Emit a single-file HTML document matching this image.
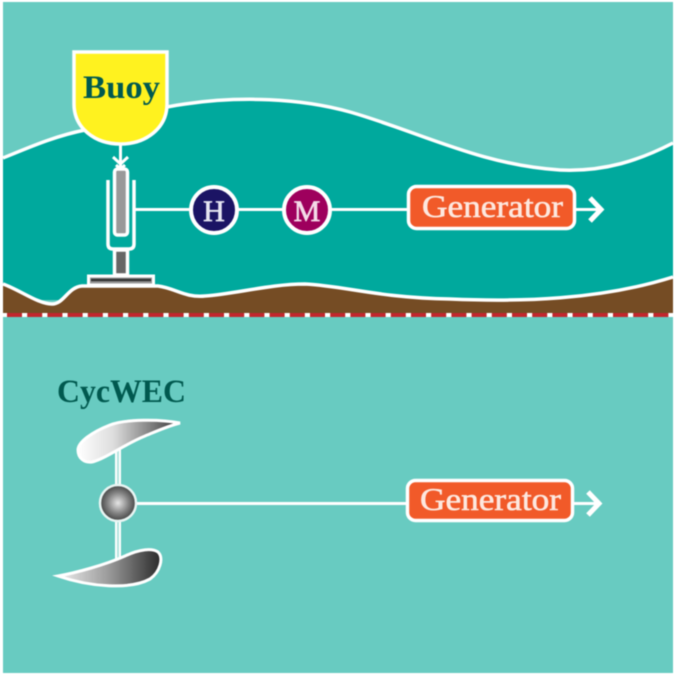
<!DOCTYPE html>
<html><head><meta charset="utf-8"><style>html,body{margin:0;padding:0;background:#fff}svg{display:block;filter:blur(.45px)}text{font-family:"Liberation Serif",serif}</style></head>
<body>
<svg width="676" height="676" viewBox="0 0 676 676" xmlns="http://www.w3.org/2000/svg">
<defs>
<linearGradient id="b1" x1="0" x2="1" y1="0" y2="0"><stop offset="0" stop-color="#fff"/><stop offset=".35" stop-color="#ddd"/><stop offset=".75" stop-color="#777"/><stop offset="1" stop-color="#333"/></linearGradient>
<linearGradient id="b2" x1="0" x2="1" y1="0" y2="0"><stop offset="0" stop-color="#eee"/><stop offset=".5" stop-color="#999"/><stop offset="1" stop-color="#2a2a2a"/></linearGradient>
<radialGradient id="ball"><stop offset="0" stop-color="#e6e6e6"/><stop offset=".6" stop-color="#808080"/><stop offset="1" stop-color="#444"/></radialGradient>
</defs>
<rect x="3" y="2" width="670" height="671" fill="#68cbc1"/>
<path d="M3 158C30 147 55 136 85 130C120 124 140 110 185 104C240 96 300 98 350 112C420 132 480 165 560 170C605 172 640 160 673 143V300H3Z" fill="#00a99d"/>
<path d="M3 158C30 147 55 136 85 130C120 124 140 110 185 104C240 96 300 98 350 112C420 132 480 165 560 170C605 172 640 160 673 143" fill="none" stroke="#fff" stroke-width="3.500"/>
<path d="M3 284C20 290 38 304 52 304C64 304 68 287 82 286H158C175 288 185 298 205 296C235 294 270 284 305 284C345 286 380 298 450 299C520 302 600 300 673 277V314H3Z" fill="#754c24"/>
<path d="M3 284C20 290 38 304 52 304C64 304 68 287 82 286H158C175 288 185 298 205 296C235 294 270 284 305 284C345 286 380 298 450 299C520 302 600 300 673 277" fill="none" stroke="#fff" stroke-width="3.500"/>
<line x1="3" y1="315" x2="673" y2="315" stroke="#fff" stroke-width="4"/>
<line x1="7" y1="315" x2="673" y2="315" stroke="#c1272d" stroke-width="4" stroke-dasharray="15 5.200"/>

<!-- buoy -->
<line x1="120.500" y1="145" x2="120.500" y2="168" stroke="#fff" stroke-width="3"/>
<path d="M113 157L120.500 164L128 157M116 165L120.500 169L125 165" fill="none" stroke="#fff" stroke-width="3"/>
<path d="M74 52H167V104C167 128 146 144 120.500 144C95 144 74 128 74 104Z" fill="#fff21f" stroke="#fff" stroke-width="3.500"/>
<text x="83" y="98" font-size="33" font-weight="bold" fill="#00594f" textLength="77" lengthAdjust="spacingAndGlyphs">Buoy</text>

<!-- piston -->
<path d="M108 180V244Q108 249 113 249H129Q134 249 134 244V180" fill="none" stroke="#fff" stroke-width="3.500"/>
<rect x="114.500" y="169" width="13" height="66" rx="3" fill="#999" stroke="#fff" stroke-width="3.500"/>
<rect x="114.500" y="250" width="13" height="25" fill="#666" stroke="#fff" stroke-width="3.500"/>
<rect x="88.500" y="276" width="65" height="9" fill="#999" stroke="#fff" stroke-width="3"/>
<line x1="91" y1="280" x2="151" y2="280" stroke="#333" stroke-width="2.500"/>

<!-- top connector -->
<line x1="134" y1="209.500" x2="600" y2="209.500" stroke="#fff" stroke-width="3"/>
<circle cx="214" cy="210" r="23" fill="#1b1464" stroke="#fff" stroke-width="4"/>
<text x="214" y="221" font-size="30" text-anchor="middle" fill="#e6e6f2" stroke="#e6e6f2" stroke-width=".7">H</text>
<circle cx="307" cy="210" r="23" fill="#9e005d" stroke="#fff" stroke-width="4"/>
<text x="307" y="221" font-size="30" text-anchor="middle" fill="#f4dbe8" stroke="#f4dbe8" stroke-width=".7">M</text>
<rect x="408.500" y="186.500" width="166" height="42" rx="8" fill="#f15a29" stroke="#fff" stroke-width="3.500"/>
<text x="422" y="217" font-size="32" fill="#fde8df" stroke="#fde8df" stroke-width=".6" textLength="141" lengthAdjust="spacingAndGlyphs">Generator</text>
<path d="M590 198L601 209.500L590 221" fill="none" stroke="#fff" stroke-width="5"/>

<!-- CycWEC -->
<text x="57" y="402" font-size="33" font-weight="bold" fill="#00594f" textLength="129" lengthAdjust="spacingAndGlyphs">CycWEC</text>
<line x1="118" y1="445" x2="118" y2="560" stroke="#fff" stroke-width="6"/>
<line x1="118" y1="445" x2="118" y2="560" stroke="#b5e5e0" stroke-width="2"/>
<line x1="135" y1="503.500" x2="598" y2="503.500" stroke="#fff" stroke-width="3"/>
<path d="M180 423C160 419 125 419 110 425C92 432 78 442 78 450C78 458 84 463 92 462C105 459 125 444 145 436C157 431 168 426 180 423Z" fill="url(#b1)" stroke="#fff" stroke-width="3"/>
<path d="M58 576C75 573 105 565 125 556C140 549 152 548 158 552C164 558 160 572 150 579C130 590 90 587 58 576Z" fill="url(#b2)" stroke="#fff" stroke-width="3"/>
<circle cx="118" cy="503" r="18" fill="url(#ball)" stroke="#e8f5f3" stroke-width="2.500"/>
<rect x="407.500" y="480.500" width="165" height="40" rx="8" fill="#f15a29" stroke="#fff" stroke-width="3.500"/>
<text x="420" y="510" font-size="32" fill="#fde8df" stroke="#fde8df" stroke-width=".6" textLength="141" lengthAdjust="spacingAndGlyphs">Generator</text>
<path d="M588 492L599 503.500L588 515" fill="none" stroke="#fff" stroke-width="5"/>
</svg>
</body></html>
